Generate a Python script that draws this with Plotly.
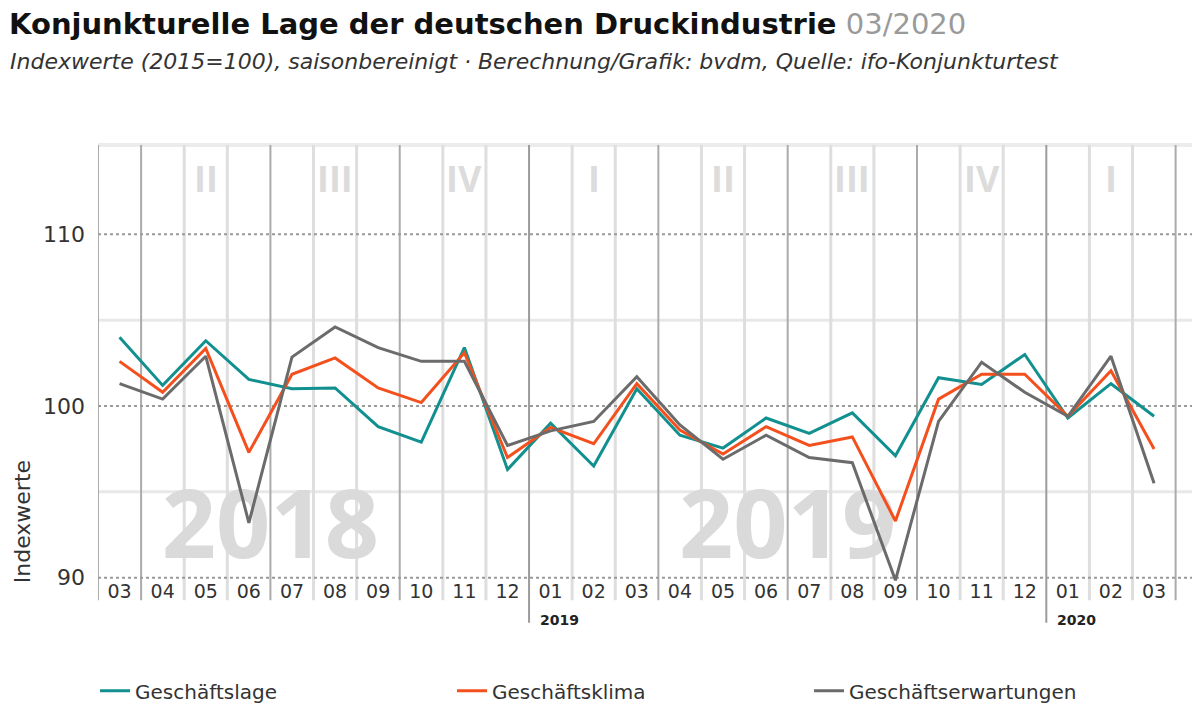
import plotly.graph_objects as go

# months from 03/2018 to 03/2020
months = ["03", "04", "05", "06", "07", "08", "09", "10", "11", "12",
          "01", "02", "03", "04", "05", "06", "07", "08", "09", "10", "11", "12",
          "01", "02", "03"]

lage = [104.0, 101.2, 103.8, 101.55, 101.0, 101.05, 98.8, 97.9, 103.4, 96.3,
        99.0, 96.5, 101.0, 98.3, 97.55, 99.3, 98.4, 99.6, 97.1, 101.65, 101.25, 103.0,
        99.3, 101.3, 99.4]
klima = [102.6, 100.8, 103.35, 97.3, 101.85, 102.8, 101.05, 100.2, 103.1, 97.0,
         98.75, 97.8, 101.3, 98.6, 97.2, 98.8, 97.7, 98.2, 93.3, 100.4, 101.85, 101.85,
         99.4, 102.05, 97.5]
erwartungen = [101.3, 100.4, 102.9, 93.2, 102.85, 104.6, 103.4, 102.6, 102.6, 97.7,
               98.55, 99.1, 101.7, 98.9, 96.9, 98.3, 97.0, 96.7, 89.85, 99.1, 102.55, 100.8,
               99.4, 102.9, 95.5]

quarter_labels = ["II", "III", "IV", "I", "II", "III", "IV", "I"]
years = ["2019", "2020"]
watermarks = ["2018", "2019"]

FONT = "DejaVu Sans"
BIG_FONT = "Open Sans"
TEAL = "#12908f"
ORANGE = "#f4501e"
GRAY = "#6b6b6b"

x = list(range(len(months)))

fig = go.Figure()

for name, values, color in [("Geschäftslage", lage, TEAL),
                            ("Geschäftsklima", klima, ORANGE),
                            ("Geschäftserwartungen", erwartungen, GRAY)]:
    fig.add_trace(go.Scatter(x=x, y=values, name=name, mode="lines",
                             line=dict(color=color, width=3)))

shapes = []

# big year watermarks, centred on the middle of each year
for i, label in enumerate(watermarks):
    cx = 3.5 + 12 * i
    shapes.append(dict(type="rect", xref="x", yref="y", x0=cx - 2, x1=cx + 2,
                       y0=91.0, y1=94.8, line=dict(width=0), fillcolor="rgba(0,0,0,0)",
                       layer="below",
                       label=dict(text=label, textposition="middle center",
                                  font=dict(family=BIG_FONT, size=95, color="#dadada",
                                            weight="bold"))))

# horizontal lines
for v in [95, 105]:
    shapes.append(dict(type="line", xref="paper", yref="y", x0=0, x1=1, y0=v, y1=v,
                       line=dict(color="#e8e8e8", width=3), layer="below"))
shapes.append(dict(type="line", xref="paper", yref="paper", x0=0, x1=1, y0=1, y1=1,
                   line=dict(color="#ececec", width=4), layer="below"))

# vertical month lines
for i in range(len(months) + 1):
    nxt = months[i] if i < len(months) else "04"
    bx = i - 0.5
    if nxt == "01":
        shapes.append(dict(type="line", xref="x", yref="paper", x0=bx, x1=bx,
                           y0=-0.093, y1=1, line=dict(color="#9c9c9c", width=2),
                           layer="below"))
    elif nxt in ("04", "07", "10") or i == 0:
        shapes.append(dict(type="line", xref="x", yref="paper", x0=bx, x1=bx,
                           y0=-0.042, y1=1, line=dict(color="#ababab", width=2),
                           layer="below"))
    else:
        shapes.append(dict(type="line", xref="x", yref="paper", x0=bx, x1=bx,
                           y0=-0.042, y1=1, line=dict(color="#dedede", width=3),
                           layer="below"))

for v in [90, 100, 110]:
    shapes.append(dict(type="line", xref="paper", yref="y", x0=0, x1=1, y0=v, y1=v,
                       line=dict(color="#9a9a9a", width=2, dash="dot"), layer="below"))

annotations = []

# quarter labels at the top
for i, q in enumerate(quarter_labels):
    annotations.append(dict(x=2 + 3 * i, y=0.924, xref="x", yref="paper", text=q,
                            showarrow=False, yanchor="middle",
                            font=dict(family=BIG_FONT, size=36, color="#dcdcdc",
                                      weight="bold")))

# year labels under the January ticks
for i, yr in enumerate(years):
    annotations.append(dict(x=9.5 + 12 * i, y=-0.088, xref="x", yref="paper", text=yr,
                            showarrow=False, xanchor="left", yanchor="middle", xshift=9,
                            font=dict(family=FONT, size=14, color="#222222",
                                      weight="bold")))

annotations.append(dict(x=-0.0695, y=0.139, xref="paper", yref="paper", text="Indexwerte",
                        showarrow=False, textangle=-90, xanchor="center", yanchor="middle",
                        borderpad=0,
                        font=dict(family=FONT, size=22, color="#333333")))

annotations.append(dict(x=-0.0822, y=1.277, xref="paper", yref="paper",
                        text="<b>Konjunkturelle Lage der deutschen Druckindustrie</b> "
                             "<span style='color:#9a9a9a'>03/2020</span>",
                        showarrow=False, xanchor="left", yanchor="middle", borderpad=0,
                        font=dict(family=FONT, size=29, color="#111111")))

annotations.append(dict(x=-0.0822, y=1.19, xref="paper", yref="paper",
                        text="Indexwerte (2015=100), saisonbereinigt · Berechnung/Grafik: bvdm, "
                             "Quelle: ifo-Konjunkturtest",
                        showarrow=False, xanchor="left", yanchor="middle",
                        font=dict(family=FONT, size=22, color="#333333", style="italic")))

# the page body adds an 8px offset, so the figure is drawn 8px smaller
fig.update_layout(
    width=1184, height=696,
    margin=dict(l=90, r=0, t=137, b=122, autoexpand=False),
    paper_bgcolor="white", plot_bgcolor="white",
    shapes=shapes,
    annotations=annotations,
    showlegend=True,
    legend=dict(orientation="h", x=-0.0027, xanchor="left", y=-0.249, yanchor="middle",
                entrywidth=312, entrywidthmode="pixels",
                font=dict(family=FONT, size=20, color="#333333")),
    font=dict(family=FONT, color="#333333"),
)

fig.update_xaxes(range=[-0.5, 24.88], tickmode="array", tickvals=x, ticktext=months,
                 showgrid=False, zeroline=False, showline=False, ticks="",
                 ticklabelstandoff=-4,
                 tickfont=dict(family=FONT, size=19, color="#333333"))
fig.update_yaxes(range=[89.75, 115.2], tickmode="array", tickvals=[90, 100, 110],
                 showgrid=False, zeroline=False, showline=False, ticks="",
                 ticklabelstandoff=12,
                 tickfont=dict(family=FONT, size=22, color="#333333"))

fig.write_html("out.html")
